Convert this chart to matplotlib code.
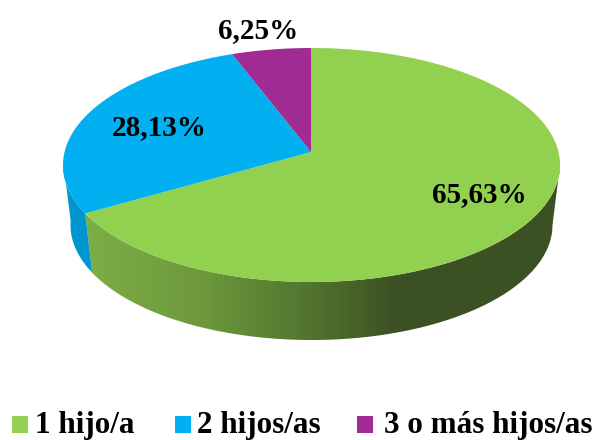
import numpy as np
import matplotlib
matplotlib.use("Agg")
import matplotlib.pyplot as plt
from matplotlib.patches import Polygon, Rectangle

categories = ["1 hijo/a", "2 hijos/as", "3 o más hijos/as"]
values = [65.63, 28.13, 6.25]
labels = ["65,63%", "28,13%", "6,25%"]
colors = ["#92D050", "#00B0F0", "#A02B93"]
blue_wall = "#0097CE"

W, H = 598, 440
fig = plt.figure(figsize=(W / 100, H / 100), dpi=100)
ax = fig.add_axes([0, 0, 1, 1])
ax.set_xlim(0, W)
ax.set_ylim(H, 0)
ax.axis("off")

SERIF = "Liberation Serif"
cx, cy, rx, ry = 311.5, 165.0, 248.5, 117.0     # top face ellipse
bx, by, brx, bry = 311.5, 225.0, 241.0, 115.0   # bottom face ellipse
ax0, ay0 = 311.0, 152.0                         # apex of the slices


def warp(t):
    return t - np.radians(4.5) * np.sin(t)


def rim(theta):
    """Point of the top ellipse hit from the apex in direction theta."""
    t = warp(np.asarray(theta, float))
    dx, dy = rx * np.sin(t), -ry * np.cos(t)
    ox, oy = ax0 - cx, ay0 - cy
    A = (dx / rx) ** 2 + (dy / ry) ** 2
    B = 2 * (ox * dx / rx ** 2 + oy * dy / ry ** 2)
    C = (ox / rx) ** 2 + (oy / ry) ** 2 - 1
    s = (-B + np.sqrt(B ** 2 - 4 * A * C)) / (2 * A)
    return ax0 + s * dx, ay0 + s * dy


def wall(t0, t1, n=400):
    ts = np.linspace(t0, t1, n)
    top = np.column_stack([cx + rx * np.sin(ts), cy - ry * np.cos(ts)])
    bot = np.column_stack([bx + brx * np.sin(ts), by - bry * np.cos(ts)])
    return np.vstack([top, bot[::-1]])


edges = np.radians(np.cumsum([0] + values) / sum(values) * 360)

# side wall -------------------------------------------------------------
b_x, b_y = rim(edges[1])
split = np.arctan2(b_x - cx, -(b_y - cy) * rx / ry) % (2 * np.pi)

stops_x = [85, 200, 300, 395, 600]
stops_c = [(0.49, 0.68, 0.27), (0.43, 0.60, 0.24), (0.33, 0.47, 0.19),
           (0.235, 0.32, 0.14), (0.235, 0.32, 0.14)]
xs = np.arange(0, W + 1)
strip = np.stack([np.interp(xs, stops_x, [c[i] for c in stops_c]) for i in range(3)],
                 axis=-1)[None, :, :]
img = ax.imshow(strip, extent=(0, W, H, 0), aspect="auto", zorder=1,
                interpolation="bilinear")
green_wall = Polygon(wall(np.radians(90), split), closed=True, transform=ax.transData,
                     fc="none", ec="none")
ax.add_patch(green_wall)
img.set_clip_path(green_wall)
ax.set_xlim(0, W)
ax.set_ylim(H, 0)

ax.add_patch(Polygon(wall(split, np.radians(272), 120), closed=True,
                     fc=blue_wall, ec="none", zorder=1))

# top face --------------------------------------------------------------
for v0, v1, col in zip(edges[:-1], edges[1:], colors):
    th = np.linspace(v0, v1, 300)
    x, y = rim(th)
    pts = np.column_stack([np.r_[ax0, x], np.r_[ay0, y]])
    ax.add_patch(Polygon(pts, closed=True, fc=col, ec="none", zorder=2))

# labels ----------------------------------------------------------------
label_pos = [(479, 202), (159, 135), (258, 38)]
for (lx, ly), s in zip(label_pos, labels):
    ax.text(lx, ly, s, ha="center", va="baseline", family=SERIF, weight="bold",
            fontsize=21, color="black", zorder=3)

# legend ----------------------------------------------------------------
swatch_x = [12, 175, 357]
text_x = [35, 197, 384]
for sx, tx_, name, col in zip(swatch_x, text_x, categories, colors):
    ax.add_patch(Rectangle((sx, 416), 16, 17, fc=col, ec="none", zorder=3))
    ax.text(tx_, 433, name, ha="left", va="baseline", family=SERIF, weight="bold",
            fontsize=22.4, color="black", zorder=3)

fig.savefig("out.png", dpi=100)
